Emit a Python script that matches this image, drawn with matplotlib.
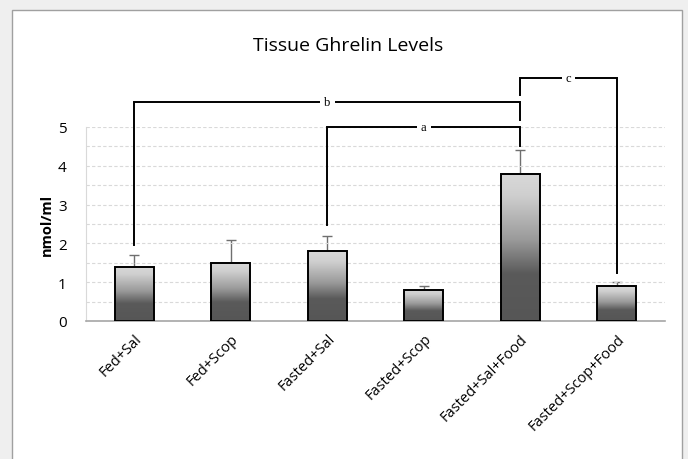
import numpy as np
import matplotlib
matplotlib.use('Agg')
import matplotlib.pyplot as plt
from matplotlib.colors import LinearSegmentedColormap
from matplotlib.patches import Rectangle

groups = ['Fed+Sal', 'Fed+Scop', 'Fasted+Sal', 'Fasted+Scop', 'Fasted+Sal+Food', 'Fasted+Scop+Food']
means = [1.4, 1.5, 1.8, 0.8, 3.8, 0.9]
errors = [0.3, 0.6, 0.4, 0.1, 0.6, 0.1]

# significance brackets: (left group, right group, left foot, right foot, top, label)
brackets = [
    (0, 4, 1.97, 5.18, 5.65, 'b'),
    (2, 4, 2.48, 4.50, 5.00, 'a'),
    (4, 5, 5.82, 1.25, 6.26, 'c'),
]

plt.rcParams['font.family'] = ['Open Sans', 'DejaVu Sans']

fig = plt.figure(figsize=(6.88, 4.60), dpi=100)
fig.patch.set_facecolor('#efefef')
frame = Rectangle((12 / 688, -0.01), 670 / 688, 1 - 11 / 460 + 0.01,
                  transform=fig.transFigure, facecolor='white',
                  edgecolor='#a0a0a0', linewidth=1.0, zorder=-10)
fig.add_artist(frame)

ax = fig.add_axes([86 / 688, 1 - 322 / 460, 579 / 688, 194 / 460])
ax.set_facecolor('none')

cmap = LinearSegmentedColormap.from_list('bar', [(0, '#d9d9d9'), (0.15, '#cfcfcf'),
                                                 (0.45, '#9a9a9a'), (0.68, '#5a5a5a'),
                                                 (1, '#565656')])
grad = np.linspace(0, 1, 256).reshape(-1, 1)
x = np.arange(len(groups))
w = 0.4
for xi, h in zip(x, means):
    ax.imshow(grad, cmap=cmap, aspect='auto', extent=[xi - w / 2, xi + w / 2, 0, h],
              origin='upper', zorder=2)
    ax.add_patch(Rectangle((xi - w / 2, 0), w, h, fill=False, edgecolor='black',
                           linewidth=1.4, zorder=3))

ax.errorbar(x, means, yerr=[np.zeros(len(means)), errors], fmt='none', ecolor='#6f6f6f',
            elinewidth=1.0, capsize=3.5, capthick=1.0, zorder=1)

for i, j, yl, yr, top, lab in brackets:
    ax.plot([x[i], x[i], x[j], x[j]], [yl, top, top, yr], color='black', lw=1.4,
            clip_on=False, zorder=4, solid_joinstyle='miter')
    ax.text((x[i] + x[j]) / 2, top, lab, ha='center', va='center', fontsize=9,
            family='Liberation Serif', zorder=5,
            bbox=dict(facecolor='white', edgecolor='none', pad=3))

ax.set_xlim(-0.5, len(groups) - 0.5)
ax.set_ylim(0, 5)
ax.set_yticks(range(6))
ax.set_yticks(np.arange(0.5, 5.01, 0.5), minor=True)
ax.grid(True, axis='y', which='both', linestyle=(0, (3, 2)), color='#d9d9d9', lw=0.8, zorder=0)
ax.set_xticks(x)
ax.set_xticklabels(groups, rotation=45, ha='right', rotation_mode='anchor', fontsize=10.5)
ax.tick_params(axis='y', length=0, labelsize=11)
ax.tick_params(axis='x', length=0, pad=7)
ax.tick_params(axis='y', pad=14)
ax.tick_params(which='minor', length=0)
for s in ['top', 'right']:
    ax.spines[s].set_visible(False)
ax.spines['left'].set_color('#d9d9d9')
ax.spines['bottom'].set_color('#a6a6a6')
ax.spines['bottom'].set_linewidth(1.2)

ax.set_ylabel('nmol/ml', fontsize=10.5, fontweight='bold', labelpad=3)
fig.text(348 / 688, 1 - 46 / 460, 'Tissue Ghrelin Levels', ha='center', va='center', fontsize=14)

fig.savefig('out.png', dpi=100, facecolor=fig.get_facecolor())
